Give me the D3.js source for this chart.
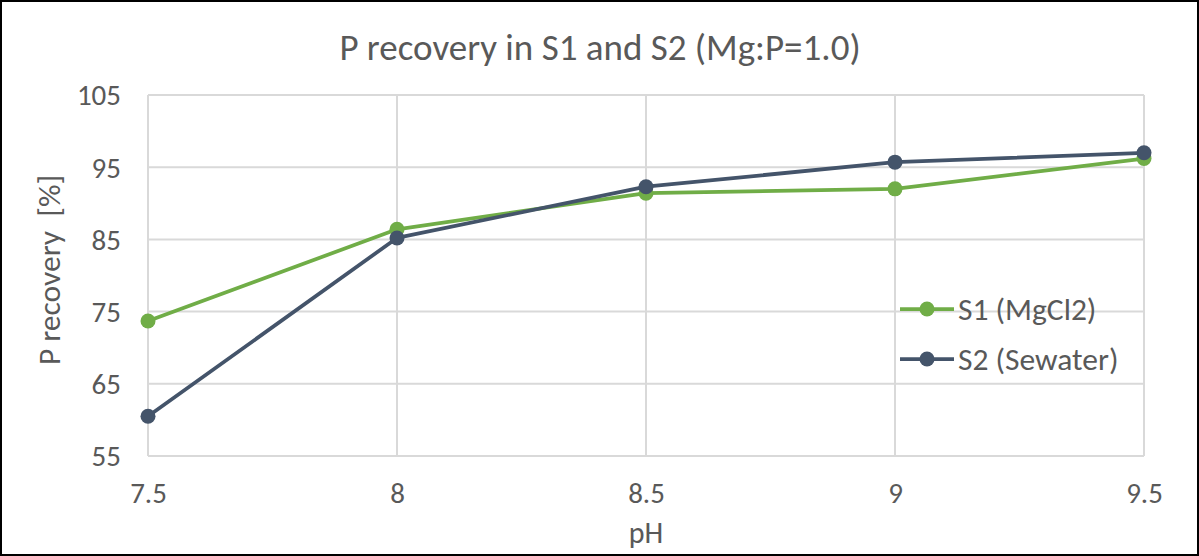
<!DOCTYPE html>
<html>
<head>
<meta charset="utf-8">
<script src="https://cdn.jsdelivr.net/npm/d3@7"></script>
<style>
  html, body { margin: 0; padding: 0; background: #fff; }
  svg { display: block; }
  text { font-family: Carlito, "Open Sans", "Liberation Sans", sans-serif; fill: #595959; }
</style>
</head>
<body>
<svg id="chart" width="1199" height="556"></svg>
<script>
// pH levels tested
const phLevels = [7.5, 8, 8.5, 9, 9.5];
// P recovery (%) per solution
const s1Values = [73.7, 86.4, 91.4, 92.0, 96.2];
const s2Values = [60.5, 85.2, 92.3, 95.7, 97.0];
const seriesNames = ["S1 (MgCl2)", "S2 (Sewater)"];
const seriesColors = ["#70ad47", "#44546a"];
const yTicks = [55, 65, 75, 85, 95, 105];
const xTicks = [7.5, 8, 8.5, 9, 9.5];

const W = 1199, H = 556;
const svg = d3.select("#chart");

svg.append("rect")
  .attr("x", 1).attr("y", 1).attr("width", W - 2).attr("height", H - 2)
  .attr("fill", "#fff").attr("stroke", "#000").attr("stroke-width", 2);

const plot = { left: 148, right: 1144, top: 95, bottom: 456 };
const x = d3.scaleLinear().domain([7.5, 9.5]).range([plot.left, plot.right]);
const y = d3.scaleLinear().domain([55, 105]).range([plot.bottom, plot.top]);

// grid
const grid = svg.append("g").attr("stroke", "#d9d9d9").attr("stroke-width", 2);
yTicks.forEach(t => grid.append("line")
  .attr("x1", plot.left).attr("x2", plot.right)
  .attr("y1", y(t)).attr("y2", y(t)));
xTicks.forEach(t => grid.append("line")
  .attr("x1", x(t)).attr("x2", x(t))
  .attr("y1", plot.top).attr("y2", plot.bottom));

// axes (labels only, lines drawn by grid)
const yAxis = d3.axisLeft(y).tickValues(yTicks).tickSize(0).tickPadding(27);
svg.append("g").attr("transform", `translate(${plot.left},0)`).call(yAxis)
  .call(g => g.select(".domain").remove())
  .selectAll("text").style("font-size", "29px").attr("fill", "#595959")
  .attr("dy", "0.34em");

const xAxis = d3.axisBottom(x).tickValues(xTicks).tickSize(0).tickPadding(47)
  .tickFormat(d3.format("~g"));
svg.append("g").attr("transform", `translate(0,${plot.bottom})`).call(xAxis)
  .call(g => g.select(".domain").remove())
  .selectAll("text").style("font-size", "29px").attr("fill", "#595959")
  .attr("dy", "0");

// title and axis titles
svg.append("text").attr("x", 600).attr("y", 60).attr("text-anchor", "middle")
  .style("font-size", "37px").text("P recovery in S1 and S2 (Mg:P=1.0)");
svg.append("text").attr("x", 646).attr("y", 543).attr("text-anchor", "middle")
  .style("font-size", "30px").text("pH");
svg.append("text").attr("transform", "translate(60,270) rotate(-90)")
  .attr("text-anchor", "middle").style("font-size", "31.5px")
  .attr("xml:space", "preserve")
  .text("P recovery  [%]");

// series
const series = [s1Values, s2Values];
const line = d3.line().x((d, i) => x(phLevels[i])).y(d => y(d));
series.forEach((vals, k) => {
  const g = svg.append("g");
  g.append("path").datum(vals).attr("d", line)
    .attr("fill", "none").attr("stroke", seriesColors[k])
    .attr("stroke-width", 3.75).attr("stroke-linejoin", "round");
  g.selectAll("circle").data(vals).join("circle")
    .attr("cx", (d, i) => x(phLevels[i])).attr("cy", d => y(d))
    .attr("r", 7.5).attr("fill", seriesColors[k]);
});

// legend
const legendY = [309, 359];
seriesNames.forEach((name, k) => {
  const g = svg.append("g").attr("transform", `translate(900,${legendY[k]})`);
  g.append("line").attr("x1", 0).attr("x2", 54).attr("y1", 0).attr("y2", 0)
    .attr("stroke", seriesColors[k]).attr("stroke-width", 3.75);
  g.append("circle").attr("cx", 27).attr("cy", 0).attr("r", 7.5).attr("fill", seriesColors[k]);
  g.append("text").attr("x", 58).attr("y", 11).style("font-size", "31.5px").text(name);
});
</script>
</body>
</html>
